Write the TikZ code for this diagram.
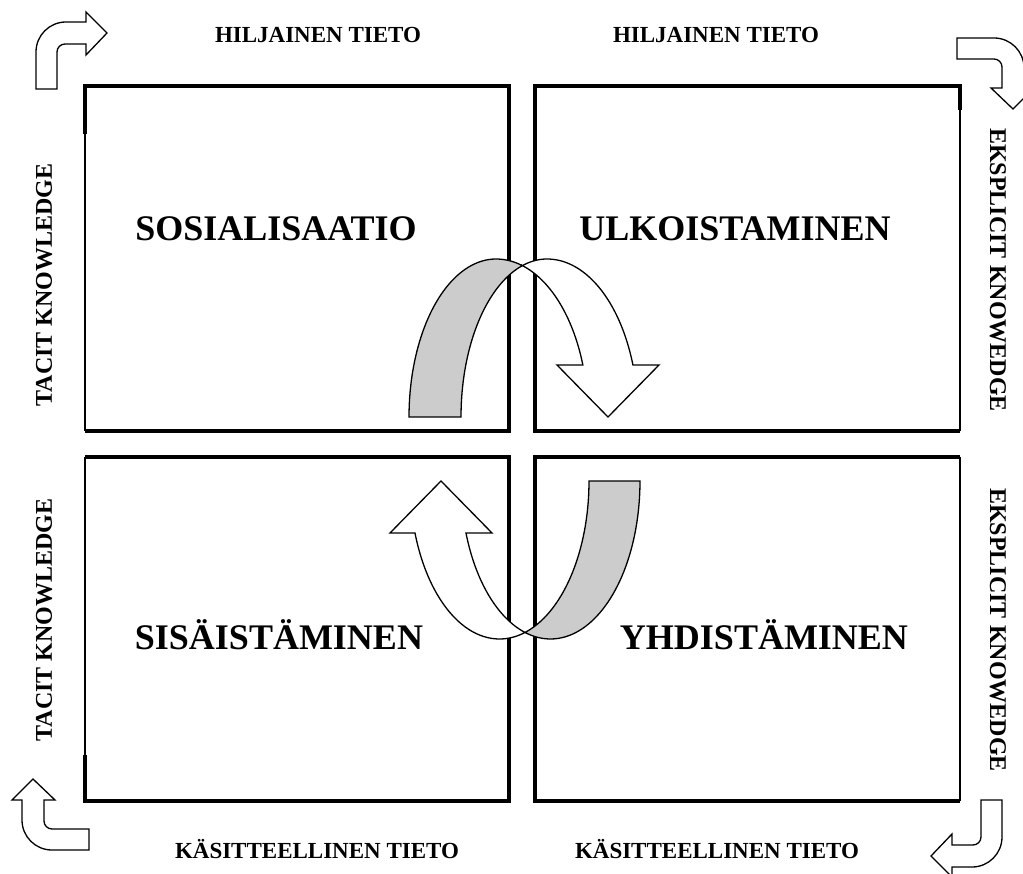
\documentclass[tikz,border=0pt]{standalone}
\usepackage{fontspec}
\setmainfont{Liberation Serif}
\definecolor{bandgray}{RGB}{204,204,204}
\tikzset{
  thickedge/.style={line width=4pt, line join=miter},
  thinedge/.style={line width=1.5pt},
  bandline/.style={line width=1.3pt, line join=miter},
  cornerarrow/.style={line width=1.3pt, fill=white, line join=miter},
  smalllabel/.style={font=\fontsize{23}{27}\selectfont\bfseries, anchor=base, inner sep=0pt},
  vlabel/.style={font=\fontsize{24}{28}\selectfont\bfseries, inner sep=0pt},
  biglabel/.style={font=\fontsize{36}{42}\selectfont\bfseries, anchor=base, inner sep=0pt},
  bent/.pic={
    \draw[cornerarrow] (0,67) -- (0,30) .. controls (0,13.4) and (13.4,0) .. (30,0)
      -- (50,0) -- (50,-10) -- (71,11) -- (50,33) -- (50,22) -- (29,22)
      .. controls (24.6,22) and (21,25.6) .. (21,30) -- (21,67) -- cycle;
  }
}
\begin{document}
\begin{tikzpicture}[x=1pt, y=-1pt]
\useasboundingbox (0,0) rectangle (1023,874);

% boxes
\draw[thickedge] (85,134) -- (85,86) -- (509,86) -- (509,431) -- (85,431);
\draw[thinedge] (85,134) -- (85,431);
\draw[thickedge] (960,110) -- (960,86) -- (535,86) -- (535,431) -- (960,431);
\draw[thinedge] (960,110) -- (960,431);
\draw[thickedge] (85,755) -- (85,801) -- (509,801) -- (509,457) -- (85,457);
\draw[thinedge] (85,457) -- (85,755);
\draw[thickedge] (960,457) -- (535,457) -- (535,801) -- (960,801);
\draw[thinedge] (960,457) -- (960,801);

% top curved arrow
\draw[bandline, fill=bandgray]
  plot[domain=180:90, samples=40] ({496+87*cos(\x)},{417-158*sin(\x)})
  -- plot[domain=90:73.9, samples=10] ({496+92*cos(\x)},{417-158*sin(\x)})
  -- plot[domain=107.25:180, samples=40] ({547+86*cos(\x)},{417-158*sin(\x)})
  -- cycle;
\draw[bandline, fill=white]
  plot[domain=107.25:90, samples=10] ({547+86*cos(\x)},{417-158*sin(\x)})
  -- plot[domain=90:19.2, samples=40] ({547+91*cos(\x)},{417-158*sin(\x)})
  -- (659,365) -- (608,417) -- (557,365)
  -- plot[domain=19.2:73.9, samples=40] ({496+92*cos(\x)},{417-158*sin(\x)})
  -- cycle;

% bottom curved arrow
\draw[bandline, fill=bandgray]
  plot[domain=0:106.6, samples=50] ({550.5+89.5*cos(\x)},{481+158*sin(\x)})
  -- plot[domain=73.4:0, samples=40] ({499.5+89.5*cos(\x)},{481+158*sin(\x)})
  -- cycle;
\draw[bandline, fill=white]
  plot[domain=73.4:160.8, samples=50] ({499.5+89.5*cos(\x)},{481+158*sin(\x)})
  -- (390,533) -- (441,481) -- (492,533)
  -- plot[domain=160.8:106.6, samples=40] ({550.5+89.5*cos(\x)},{481+158*sin(\x)})
  -- cycle;

% corner arrows
\path (36,22) pic {bent};
\path (1024,38) pic[rotate=-90] {bent};
\path (22,850) pic[rotate=90] {bent};
\path (1002,867) pic[rotate=180] {bent};

% labels
\node[smalllabel] (h1) at (318,43) {HILJAINEN TIETO};
\node[smalllabel] (h2) at (716,43) {HILJAINEN TIETO};
\node[smalllabel] (k1) at (317,858) {KÄSITTEELLINEN TIETO};
\node[smalllabel] (k2) at (717,858) {KÄSITTEELLINEN TIETO};

\node[vlabel, rotate=90] (t1) at (44,285) {TACIT KNOWLEDGE};
\node[vlabel, rotate=90] (t2) at (44,620) {TACIT KNOWLEDGE};
\node[vlabel, rotate=-90] (e1) at (998,270) {EKSPLICIT KNOWEDGE};
\node[vlabel, rotate=-90] (e2) at (998,630) {EKSPLICIT KNOWEDGE};

\node[biglabel] (s1) at (276,241) {SOSIALISAATIO};
\node[biglabel] (s2) at (735,241) {ULKOISTAMINEN};
\node[biglabel] (s3) at (279,649) {SISÄISTÄMINEN};
\node[biglabel] (s4) at (764,649) {YHDISTÄMINEN};
\end{tikzpicture}
\end{document}
